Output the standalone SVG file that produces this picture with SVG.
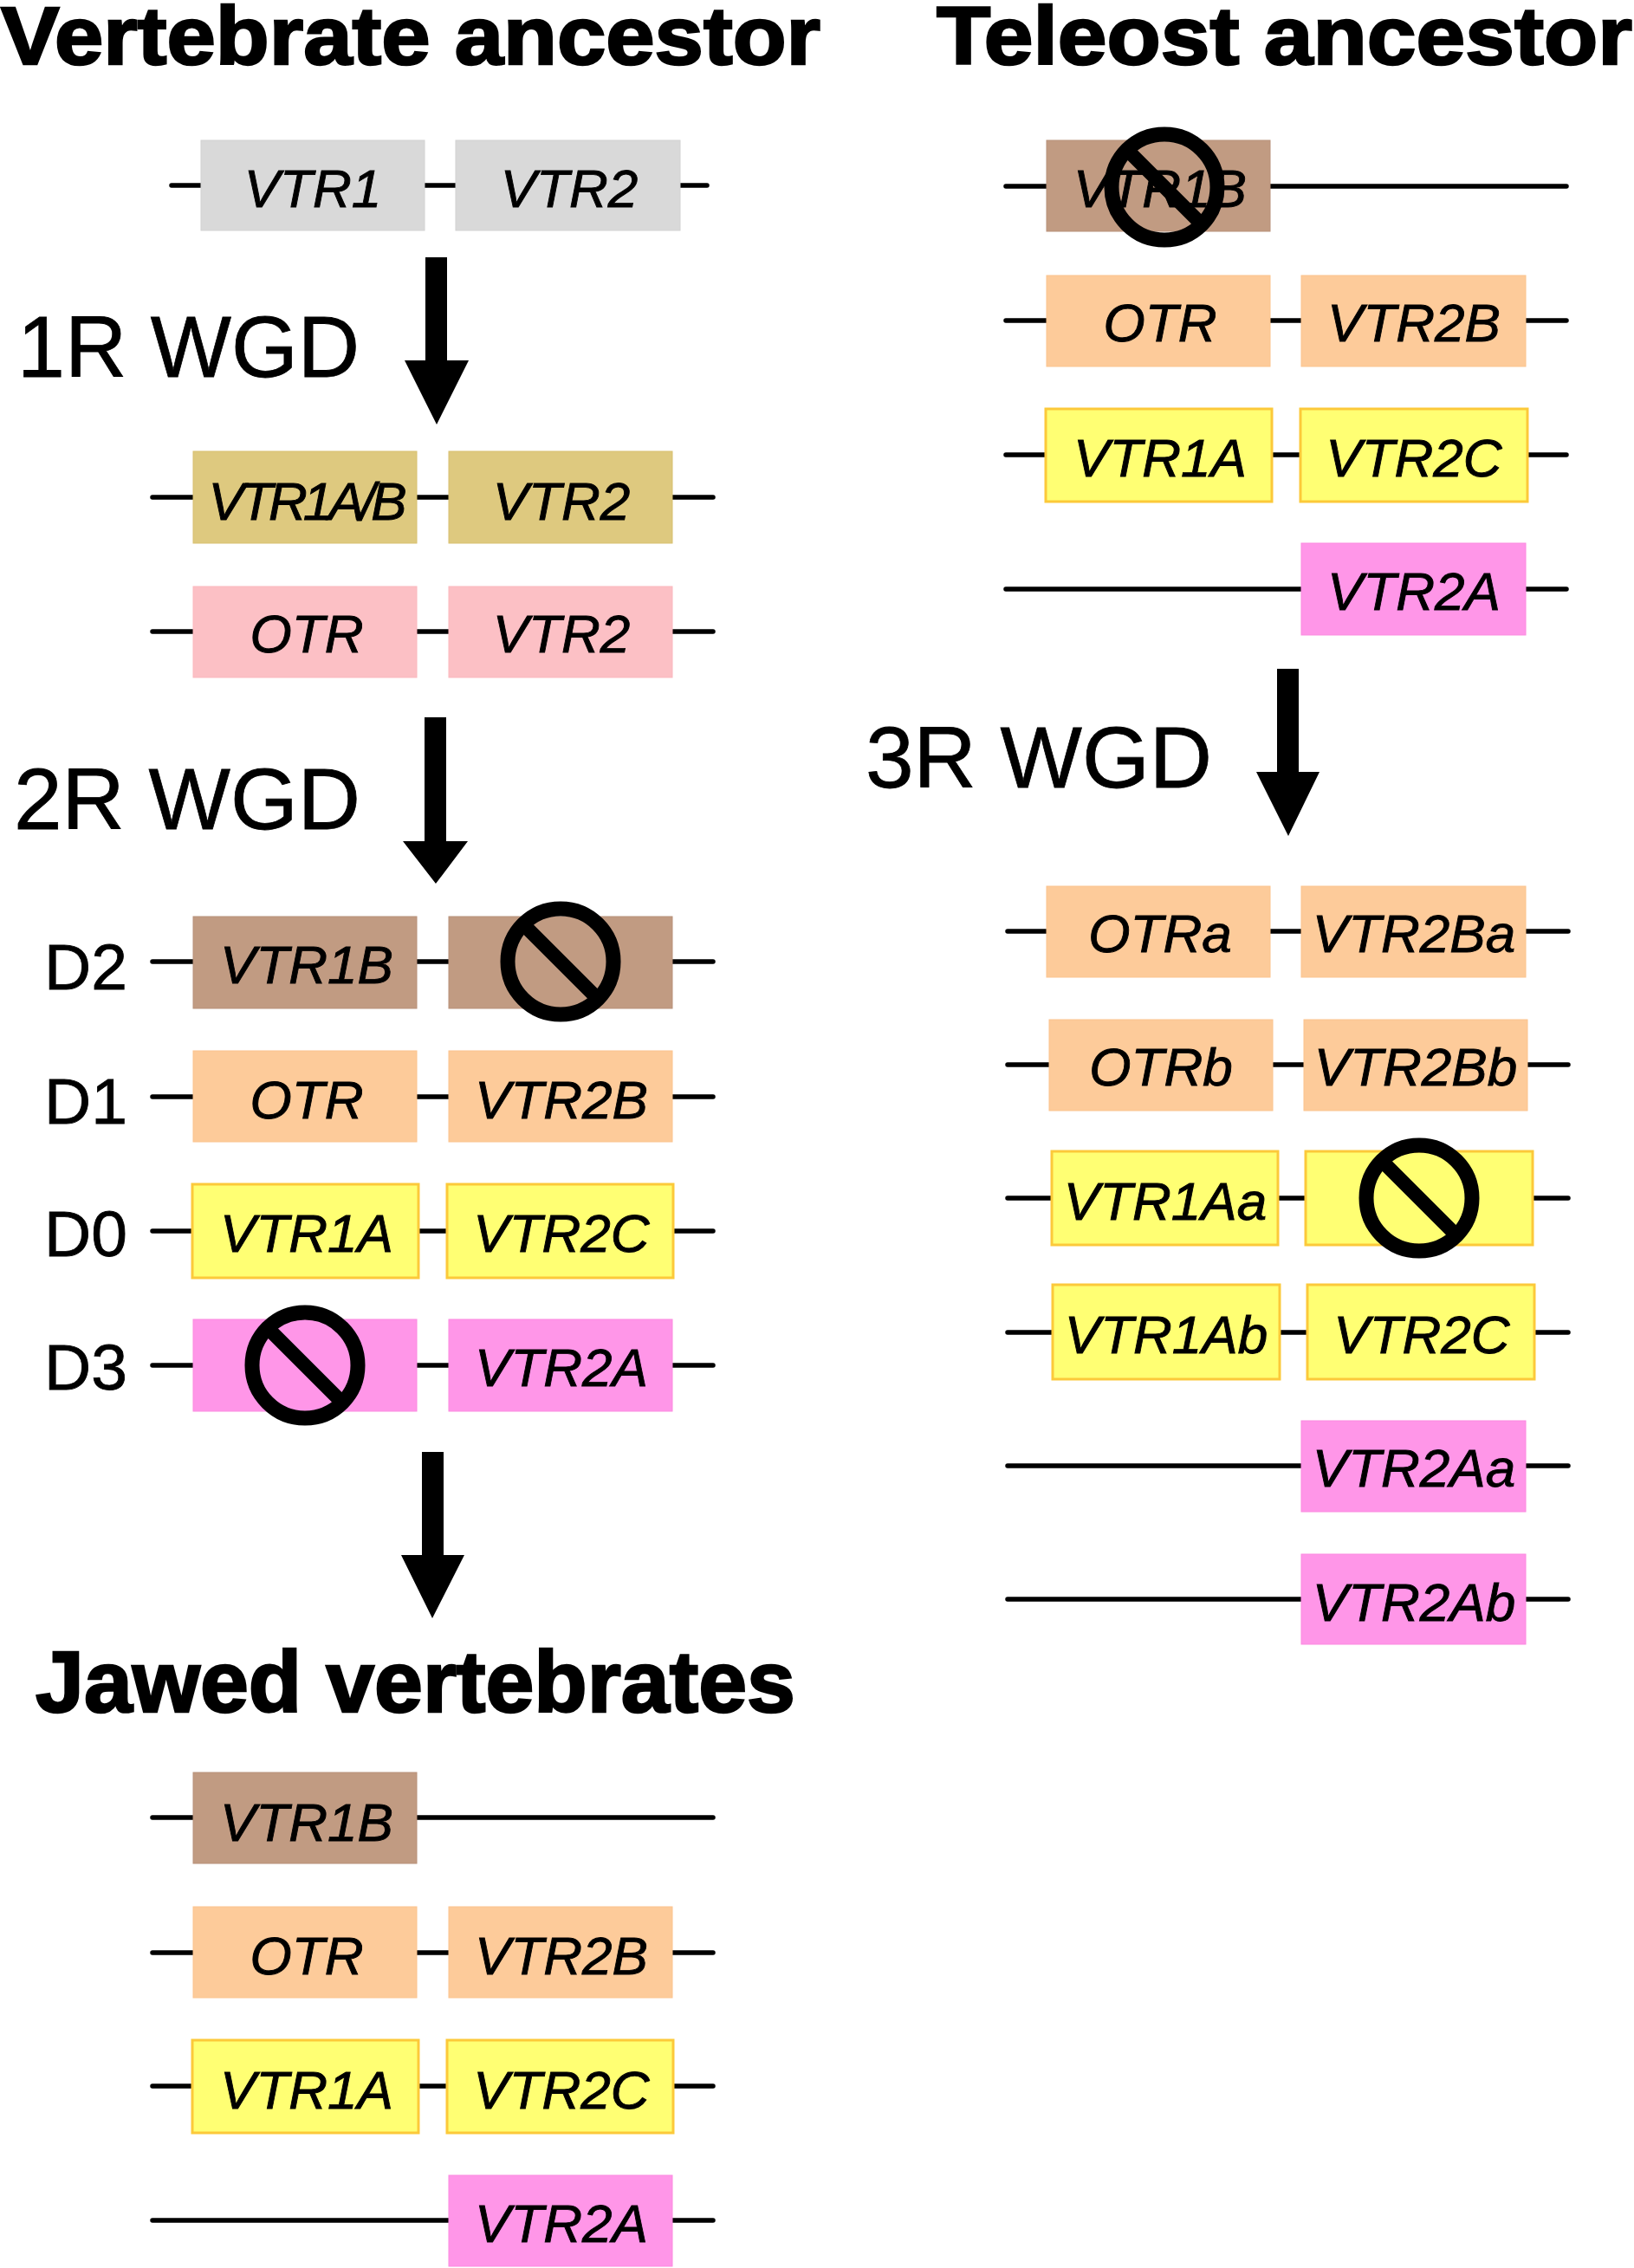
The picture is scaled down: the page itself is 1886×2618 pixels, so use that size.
<svg xmlns="http://www.w3.org/2000/svg" xmlns:xlink="http://www.w3.org/1999/xlink" width="1886" height="2618" viewBox="0 0 1886 2618">
<style>
text{font-family:"Liberation Sans",Arial,sans-serif;fill:#000}
.title{font-size:100px;font-weight:700;stroke:#000;stroke-width:2.5px}
.top{font-size:95px}
.wgd{font-size:100px;stroke:#000;stroke-width:.8px}
.dup{font-size:75px;stroke:#000;stroke-width:.8px}
.g{font-size:62px;font-style:italic;text-anchor:middle;stroke:#000;stroke-width:.9px}
.l{stroke:#000;stroke-width:5.5;stroke-linecap:round;fill:none}
.gray{fill:#d9d9d9;stroke:#d2d2d2}
.khaki{fill:#dec97f;stroke:#d8c070}
.pink{fill:#fcc0c5;stroke:#fbb8be}
.brown{fill:#c19b82;stroke:#b8917a}
.orange{fill:#fdcb9a;stroke:#fbc48e}
.yellow{fill:#ffff73;stroke:#fcc93a;stroke-width:3}
.mag{fill:#ff96e8;stroke:#fb8ae0}
.a{fill:#000}
</style>
<defs>
<g id="no"><circle r="61" fill="none" stroke="#000" stroke-width="17"/><line x1="-44" y1="-44" x2="44" y2="44" stroke="#000" stroke-width="16"/></g>
</defs>
<g id="connectors">
<path class="l" d="M198 214H816M176 574H823M176 729H823M176 1110H823M176 1266H823M176 1421H823M176 1576H823M176 2098H823M176 2254H823M176 2408H823M176 2563H823"/>
<path class="l" d="M1161 215H1808M1161 370H1808M1161 525H1808M1161 680H1808M1163 1075H1810M1163 1229H1810M1163 1383H1810M1163 1538H1810M1163 1692H1810M1163 1846H1810"/>
<path class="a" id="arrow1" d="M491 297H516V416H541L504 490L467 416H491Z"/>
<path class="a" id="arrow2" d="M490 828H515V971H540L503 1020L465 971H490Z"/>
<path class="a" id="arrow3" d="M487 1676H512V1795H536L499 1868L463 1795H487Z"/>
<path class="a" id="arrow4" d="M1474 772H1499V891H1523L1487 965L1450 891H1474Z"/>
</g>
<g id="titles">
<text class="title top" x="1" y="74" textLength="946" lengthAdjust="spacingAndGlyphs">Vertebrate ancestor</text>
<text class="title top" x="1081" y="74" textLength="803" lengthAdjust="spacingAndGlyphs">Teleost ancestor</text>
<text class="title" x="41" y="1976" textLength="877" lengthAdjust="spacingAndGlyphs">Jawed vertebrates</text>
<text class="wgd" x="20" y="435" textLength="395" lengthAdjust="spacingAndGlyphs">1R WGD</text>
<text class="wgd" x="16" y="957">2R WGD</text>
<text class="wgd" x="999" y="909">3R WGD</text>
<text class="dup" x="51" y="1142">D2</text>
<text class="dup" x="51" y="1297">D1</text>
<text class="dup" x="51" y="1450">D0</text>
<text class="dup" x="51" y="1604">D3</text>
</g>
<g id="n1"><rect class="gray" x="232" y="162" width="258" height="104"/><text class="g" x="361" y="239">VTR1</text></g>
<g id="n2"><rect class="gray" x="526" y="162" width="259" height="104"/><text class="g" x="657" y="239">VTR2</text></g>
<g id="n3"><rect class="khaki" x="223" y="521" width="258" height="106"/><text class="g" x="355" y="600" textLength="229" lengthAdjust="spacing">VTR1A/B</text></g>
<g id="n4"><rect class="khaki" x="518" y="521" width="258" height="106"/><text class="g" x="648" y="600">VTR2</text></g>
<g id="n5"><rect class="pink" x="223" y="677" width="258" height="105"/><text class="g" x="354" y="753">OTR</text></g>
<g id="n6"><rect class="pink" x="518" y="677" width="258" height="105"/><text class="g" x="648" y="753">VTR2</text></g>
<g id="n7"><rect class="brown" x="223" y="1058" width="258" height="106"/><text class="g" x="354" y="1135">VTR1B</text></g>
<g id="n8"><rect class="brown" x="518" y="1058" width="258" height="106"/><use href="#no" x="647" y="1110"/></g>
<g id="n9"><rect class="orange" x="223" y="1213" width="258" height="105"/><text class="g" x="354" y="1291">OTR</text></g>
<g id="n10"><rect class="orange" x="518" y="1213" width="258" height="105"/><text class="g" x="648" y="1291">VTR2B</text></g>
<g id="n11"><rect class="yellow" x="222" y="1367" width="261" height="108"/><text class="g" x="354" y="1445">VTR1A</text></g>
<g id="n12"><rect class="yellow" x="516" y="1367" width="261" height="108"/><text class="g" x="648" y="1445">VTR2C</text></g>
<g id="n13"><rect class="mag" x="223" y="1523" width="258" height="106"/><use href="#no" x="352" y="1576"/></g>
<g id="n14"><rect class="mag" x="518" y="1523" width="258" height="106"/><text class="g" x="648" y="1600">VTR2A</text></g>
<g id="n15"><rect class="brown" x="223" y="2046" width="258" height="105"/><text class="g" x="354" y="2125">VTR1B</text></g>
<g id="n16"><rect class="orange" x="223" y="2201" width="258" height="105"/><text class="g" x="354" y="2279">OTR</text></g>
<g id="n17"><rect class="orange" x="518" y="2201" width="258" height="105"/><text class="g" x="648" y="2279">VTR2B</text></g>
<g id="n18"><rect class="yellow" x="222" y="2355" width="261" height="107"/><text class="g" x="354" y="2434">VTR1A</text></g>
<g id="n19"><rect class="yellow" x="516" y="2355" width="261" height="107"/><text class="g" x="648" y="2434">VTR2C</text></g>
<g id="n20"><rect class="mag" x="518" y="2511" width="258" height="105"/><text class="g" x="648" y="2588">VTR2A</text></g>
<g id="n21"><rect class="brown" x="1208" y="162" width="258" height="105"/><text class="g" x="1339" y="239">VTR1B</text><use href="#no" x="1344" y="216"/></g>
<g id="n22"><rect class="orange" x="1208" y="318" width="258" height="105"/><text class="g" x="1339" y="394">OTR</text></g>
<g id="n23"><rect class="orange" x="1502" y="318" width="259" height="105"/><text class="g" x="1632" y="394">VTR2B</text></g>
<g id="n24"><rect class="yellow" x="1207" y="472" width="261" height="107"/><text class="g" x="1339" y="550">VTR1A</text></g>
<g id="n25"><rect class="yellow" x="1501" y="472" width="262" height="107"/><text class="g" x="1632" y="550">VTR2C</text></g>
<g id="n26"><rect class="mag" x="1502" y="627" width="259" height="106"/><text class="g" x="1632" y="704">VTR2A</text></g>
<g id="n27"><rect class="orange" x="1208" y="1023" width="258" height="105"/><text class="g" x="1339" y="1099">OTRa</text></g>
<g id="n28"><rect class="orange" x="1502" y="1023" width="259" height="105"/><text class="g" x="1632" y="1099">VTR2Ba</text></g>
<g id="n29"><rect class="orange" x="1211" y="1177" width="258" height="105"/><text class="g" x="1340" y="1253">OTRb</text></g>
<g id="n30"><rect class="orange" x="1505" y="1177" width="258" height="105"/><text class="g" x="1634" y="1253">VTR2Bb</text></g>
<g id="n31"><rect class="yellow" x="1214" y="1329" width="261" height="108"/><text class="g" x="1345" y="1408">VTR1Aa</text></g>
<g id="n32"><rect class="yellow" x="1507" y="1329" width="262" height="108"/><use href="#no" x="1638" y="1383"/></g>
<g id="n33"><rect class="yellow" x="1215" y="1483" width="262" height="109"/><text class="g" x="1346" y="1562">VTR1Ab</text></g>
<g id="n34"><rect class="yellow" x="1509" y="1483" width="262" height="109"/><text class="g" x="1641" y="1562">VTR2C</text></g>
<g id="n35"><rect class="mag" x="1502" y="1640" width="259" height="105"/><text class="g" x="1632" y="1716">VTR2Aa</text></g>
<g id="n36"><rect class="mag" x="1502" y="1794" width="259" height="104"/><text class="g" x="1632" y="1871">VTR2Ab</text></g>
</svg>
